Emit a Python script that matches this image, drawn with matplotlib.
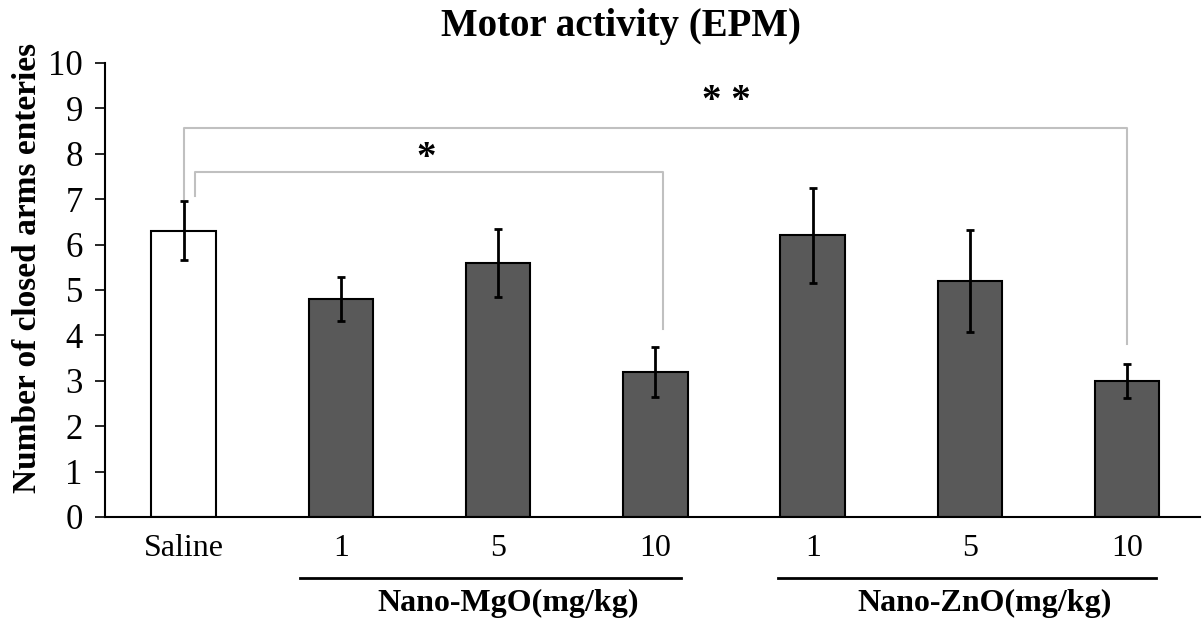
import matplotlib.pyplot as plt

groups = ["Saline", "1", "5", "10", "1", "5", "10"]
values = [6.3, 4.8, 5.6, 3.2, 6.2, 5.2, 3.0]
errors = [0.65, 0.48, 0.75, 0.55, 1.05, 1.12, 0.37]
colors = ["white", "#595959", "#595959", "#595959", "#595959", "#595959", "#595959"]
group_names = ["Nano-MgO(mg/kg)", "Nano-ZnO(mg/kg)"]

plt.rcParams['font.family'] = ['Liberation Serif', 'DejaVu Serif']

fig = plt.figure(figsize=(12.02, 6.21), dpi=100)
ax = fig.add_axes([0.0874, 0.1675, 0.9106, 0.7311])

x = list(range(len(values)))
ax.bar(x, values, width=0.41, color=colors, edgecolor='black', linewidth=1.5,
       yerr=errors, error_kw=dict(ecolor='black', elinewidth=2, capsize=3, capthick=2))

ax.set_ylim(0, 10)
ax.set_xlim(-0.5, 6.46)
ax.set_yticks(range(0, 11))
ax.tick_params(axis='y', labelsize=25, length=7, width=1.2, direction='out', pad=9)
ax.set_xticks(x)
ax.set_xticklabels(groups, fontsize=23)
ax.tick_params(axis='x', length=0, pad=12)
ax.spines['top'].set_visible(False)
ax.spines['right'].set_visible(False)
ax.spines['left'].set_linewidth(1.5)
ax.spines['bottom'].set_linewidth(1.5)
ax.set_ylabel("Number of closed arms enteries", fontsize=24, fontweight='bold',
              va='center')
ax.yaxis.set_label_coords(-0.0705, 0.548)
fig.text(0.517, 0.958, "Motor activity (EPM)", fontsize=28, fontweight='bold',
         ha='center', va='center')

# significance brackets
gray = '#c0c0c0'
ax.plot([0, 0, 6, 6], [7.0, 8.57, 8.57, 3.8], color=gray, lw=1.5, clip_on=False)
ax.plot([0.07, 0.07, 3.05, 3.05], [7.07, 7.6, 7.6, 4.15], color=gray, lw=1.5, clip_on=False)
ax.text(1.54, 7.9, "*", fontsize=28, ha='center', va='center', fontweight='bold')
ax.text(3.45, 9.15, "* *", fontsize=28, ha='center', va='center', fontweight='bold')

# group lines and labels below the axis
trans = ax.get_xaxis_transform()
for (a, b), name in zip([(0.74, 3.16), (3.78, 6.18)], group_names):
    ax.plot([a, b], [-0.134, -0.134], color='black', lw=2, transform=trans, clip_on=False)
    ax.text((a + b) / 2 + 0.11, -0.19, name, transform=trans, ha='center', va='center',
            fontsize=23, fontweight='bold')

fig.savefig("out.png", dpi=100)
